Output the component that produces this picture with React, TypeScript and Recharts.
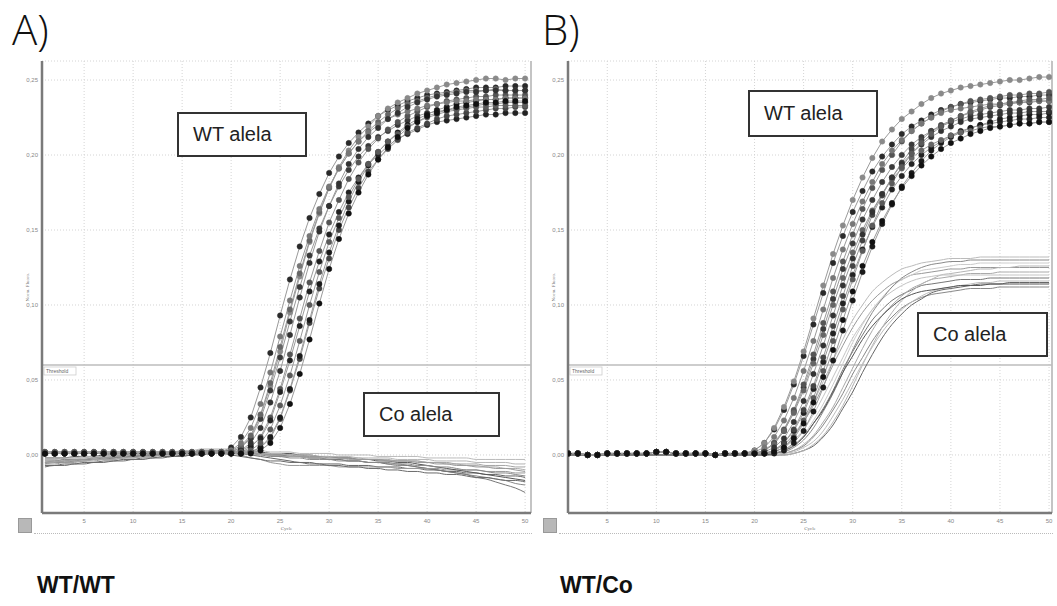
import React from 'react';
import { LineChart, Line, XAxis, YAxis, CartesianGrid, ReferenceLine } from 'recharts';

// cycle numbers of the run
const CYCLES = [1,2,3,4,5,6,7,8,9,10,11,12,13,14,15,16,17,18,19,20,21,22,23,24,25,26,27,28,29,30,31,32,33,34,35,36,37,38,39,40,41,42,43,44,45,46,47,48,49,50];

const X_TICKS = [5, 10, 15, 20, 25, 30, 35, 40, 45, 50];
const Y_TICKS = [0, 0.05, 0.1, 0.15, 0.2, 0.25];
const THRESHOLD = 0.06;

// A) WT/WT — WT allele curves (norm. fluoro. x1000, cycles 1..50)
const A_WT = [
  [1,1,1,1,1,1,1,1,1,1,1,1,1,1,1,1,1,1, 2,5,12,25,45,68,93,117,139,158,174,188,199,208,215,221,226,230,233,236,238,240,241,242,243,244,245,245,245,246,246,246],
  [1,1,1,1,1,1,1,1,1,1,1,1,1,1,1,1,1,1,1, 2,5,12,26,46,69,95,119,142,161,178,192,203,212,219,226,231,235,238,241,243,245,247,248,249,250,251,251,250,251,251],
  [1,1,1,1,1,1,1,1,1,1,1,1,1,1,1,1,1,1,1, 2,5,11,24,43,65,89,112,133,151,166,179,190,199,206,212,216,220,223,226,228,229,230,231,232,233,234,234,235,235,235],
  [1,1,1,1,1,1,1,1,1,1,1,1,1,1,1,1,1,1,1,1, 2,5,12,25,44,67,91,115,136,155,170,184,195,204,211,217,222,226,229,232,234,236,237,238,239,239,240,240,240,240],
  [2,2,2,2,2,2,2,2,2,2,2,2,2,2,2,2,2,2,2,2, 3,6,11,23,42,63,86,109,129,147,162,175,185,194,200,206,211,214,217,220,222,223,224,225,226,227,227,228,228,228],
  [1,1,1,1,1,1,1,1,1,1,1,1,1,1,1,1,1,1,1,1,1, 2,5,11,24,43,64,88,111,131,150,165,178,189,197,204,210,215,218,221,224,226,227,228,229,230,231,231,232,232],
  [1,1,1,1,1,1,1,1,1,1,1,1,1,1,1,1,1,1,1,1,1, 2,5,12,25,44,66,90,114,135,153,169,182,193,202,209,215,220,224,227,230,232,234,235,236,237,237,238,238,238],
  [2,2,2,2,2,2,2,2,2,2,2,2,2,2,2,2,2,2,2, 3,6,13,27,48,72,97,121,143,162,178,191,201,209,216,222,227,231,234,236,238,240,241,242,243,243,243,244,243,243,243],
  [1,1,1,1,1,1,1,1,1,1,1,1,1,1,1,1,1,1, 1,3,8,18,34,55,79,103,126,146,164,179,191,201,209,215,220,224,227,229,231,233,234,235,236,236,237,237,237,238,238,238],
  [1,1,1,1,1,1,1,1,1,1,1,1,1,1,1,1,1,1,1, 1,3,8,18,35,56,80,105,128,149,166,181,194,204,212,218,224,228,232,235,237,239,240,241,242,242,243,243,243,243,243],
  [2,2,2,2,2,2,2,2,2,2,2,2,2,2,2,2,2,2,2,2, 2,3,8,17,33,53,76,100,122,142,158,172,184,194,202,209,214,219,222,225,227,229,230,231,232,232,233,233,233,233],
  [1,1,1,1,1,1,1,1,1,1,1,1,1,1,1,1,1,1,1,1,1, 1,3,8,18,34,54,77,101,124,144,161,175,187,197,205,212,218,222,226,228,230,232,233,234,235,235,236,236,236],
];

// A) WT/WT — Co allele curves (no amplification)
const A_CO = [
  [-6,-5,-5,-4,-4,-3,-3,-2,-2,-1,-1,0,0,1,1,2,2,3, 3,2,2,1,1,0,0,-1,-1,-2,-2,-3,-3,-4,-4,-5,-5,-6,-7,-7,-8,-9,-10,-11,-12,-13,-14,-15,-16,-17,-19,-20],
  [-3,-3,-2,-2,-2,-1,-1,-1,0,0,0,1,1,1,2,2,3, 3,3,2,2,1,1,1,0,0,0,-1,-1,-1,-2,-2,-2,-3,-3,-3,-4,-4,-4,-5,-5,-6,-6,-7,-7,-8,-8,-9,-9,-10],
  [-7,-7,-6,-6,-5,-5,-4,-4,-3,-3,-2,-2,-1,-1,0,0,1,1,2, 2,1,0,-1,-2,-3,-4,-5,-5,-6,-6,-6,-7,-7,-7,-8,-8,-8,-9,-9,-10,-10,-11,-11,-12,-12,-13,-13,-14,-14,-15],
  [-4,-4,-3,-3,-2,-2,-1,-1,0,0,1,1,2,2,3,3,4,4, 4,4,3,3,3,2,2,2,1,1,1,1,0,0,0,0,-1,-1,-1,-1,-1,-2,-2,-2,-2,-2,-3,-3,-3,-3,-3,-3],
  [-5,-5,-4,-4,-3,-3,-2,-2,-1,-1,0,0,1,1,2,2,3,3, 3,2,2,1,1,0,0,-1,-1,-2,-2,-3,-3,-4,-4,-5,-5,-6,-6,-7,-8,-9,-10,-11,-12,-13,-15,-16,-18,-20,-22,-25],
  [-6,-6,-5,-5,-4,-4,-3,-3,-2,-2,-1,-1,0,0,1,1,2,2, 2,1,0,-2,-3,-5,-6,-7,-7,-7,-7,-7,-8,-8,-8,-8,-8,-8,-9,-9,-9,-9,-9,-10,-10,-10,-10,-11,-11,-11,-12,-12],
  [-2,-2,-2,-1,-1,-1,0,0,0,1,1,1,1,2,2,2,3,3, 3,3,2,2,2,1,1,1,0,0,-1,-1,-2,-2,-3,-3,-4,-4,-5,-5,-6,-7,-8,-9,-10,-11,-12,-13,-14,-15,-16,-17],
  [-5,-5,-4,-4,-4,-3,-3,-3,-2,-2,-1,-1,0,0,1,1,2,2, 2,2,1,1,0,0,-1,-1,-1,-2,-2,-2,-2,-3,-3,-3,-3,-4,-4,-4,-4,-5,-5,-5,-6,-6,-6,-7,-7,-7,-8,-8],
  [-4,-4,-3,-3,-3,-2,-2,-2,-1,-1,0,0,0,1,1,1,2,2, 2,1,1,0,0,-1,-1,-2,-2,-3,-3,-3,-4,-4,-4,-5,-5,-5,-6,-6,-7,-7,-8,-8,-9,-10,-10,-11,-12,-12,-13,-14],
  [-3,-3,-2,-2,-1,-1,-1,0,0,0,1,1,1,2,2,2,3,3, 3,2,2,2,1,1,1,0,0,0,-1,-1,-1,-1,-2,-2,-2,-2,-3,-3,-3,-3,-4,-4,-4,-4,-5,-5,-5,-5,-6,-6],
  [-8,-7,-7,-6,-6,-5,-5,-4,-4,-3,-3,-2,-2,-1,-1,0,0,1, 1,0,-1,-2,-3,-4,-4,-5,-5,-6,-6,-7,-7,-8,-8,-9,-9,-10,-10,-11,-11,-12,-12,-13,-13,-14,-15,-15,-16,-17,-17,-18],
  [-5,-4,-4,-3,-3,-2,-2,-1,-1,0,0,1,1,2,2,2,3,3, 3,2,2,1,1,0,0,0,-1,-1,-1,-2,-2,-2,-3,-3,-3,-4,-4,-4,-5,-5,-6,-6,-7,-7,-8,-8,-9,-9,-10,-11],
];

// B) WT/Co — WT allele curves
const B_WT = [
  [1,1,0,0,1,1,1,1,1,2,2,1,1,1,1,0,1,1, 1,3,8,17,30,47,66,87,108,128,146,162,176,189,199,207,214,219,223,227,230,232,234,235,236,237,238,238,239,239,240,240],
  [1,1,0,0,1,1,1,1,1,2,2,1,1,1,1,0,1,1, 1,3,8,18,32,49,69,91,113,134,153,170,185,198,209,217,224,229,234,238,241,243,245,246,247,248,249,250,250,251,252,252],
  [1,1,0,0,1,1,1,1,1,2,2,1,1,1,1,0,1,1,1, 1,3,8,16,29,45,64,84,104,124,141,157,170,182,192,200,207,212,216,219,222,224,226,227,228,229,230,230,231,231,232],
  [1,1,0,0,1,1,1,1,1,2,2,1,1,1,1,0,1,1,1, 1,3,8,17,30,47,67,88,109,129,147,164,178,190,200,209,216,221,225,229,232,234,236,237,238,239,240,240,241,241,242],
  [1,1,0,0,1,1,1,1,1,2,2,1,1,1,1,0,1,1,1,1, 1,3,8,16,28,44,62,81,101,120,137,152,165,177,186,194,200,205,209,213,216,218,220,221,222,223,224,224,225,225],
  [1,1,0,0,1,1,1,1,1,2,2,1,1,1,1,0,1,1,1,1, 1,3,8,17,30,46,65,86,106,126,143,160,173,185,195,204,210,216,220,223,226,228,230,232,233,234,235,235,236,236],
  [1,1,0,0,1,1,1,1,1,2,2,1,1,1,1,0,1,1,1,1,1, 1,3,8,16,29,45,63,83,103,122,139,154,167,179,188,196,203,208,212,215,218,220,222,224,225,226,227,227,228],
  [1,1,0,0,1,1,1,1,1,2,2,1,1,1,1,0,1,1,1, 1,3,7,16,28,43,61,80,100,118,135,150,163,174,184,191,198,203,207,210,213,215,216,218,219,219,220,221,221,222,222],
  [1,1,0,0,1,1,1,1,1,2,2,1,1,1,1,0,1,1, 1,2,5,12,23,38,56,76,97,118,137,154,169,182,194,203,210,216,221,225,228,230,231,232,233,234,234,235,235,236,236,236],
  [1,1,0,0,1,1,1,1,1,2,2,1,1,1,1,0,1,1,1, 1,2,5,11,22,36,54,73,93,113,131,147,162,174,185,194,201,207,212,216,219,222,224,225,226,227,228,228,229,229,229],
  [1,1,0,0,1,1,1,1,1,2,2,1,1,1,1,0,1,1,1,1, 1,2,5,12,23,38,56,76,97,117,136,153,168,181,192,201,208,214,219,223,226,229,231,233,234,235,236,237,237,238],
  [1,1,0,0,1,1,1,1,1,2,2,1,1,1,1,0,1,1,1,1, 1,2,5,11,21,35,52,70,90,109,126,142,156,168,178,186,193,199,204,208,211,214,216,218,219,220,221,221,222,222],
];

// B) WT/Co — Co allele curves (later, lower plateau)
const B_CO = [
  [0,0,0,0,0,0,0,0,0,0,0,0,0,0,0,0,0,0,0,0, 1,3,7,13,22,33,46,60,73,85,95,103,109,114,117,120,121,122,123,124,124,125,125,125,125,125,125,125,125,125],
  [0,0,0,0,0,0,0,0,0,0,0,0,0,0,0,0,0,0,0,0, 1,3,7,14,23,35,49,63,77,90,100,109,115,120,124,126,128,129,130,131,131,131,132,132,132,132,132,132,132,132],
  [0,0,0,0,0,0,0,0,0,0,0,0,0,0,0,0,0,0,0,0,0, 1,3,7,12,21,31,43,57,69,80,90,97,103,107,110,113,114,115,116,117,117,117,118,118,118,118,118,118,118],
  [0,0,0,0,0,0,0,0,0,0,0,0,0,0,0,0,0,0,0,0,0, 1,3,7,13,23,34,47,61,75,87,97,105,112,117,120,123,124,125,126,127,127,128,128,128,128,128,128,128,128],
  [0,0,0,0,0,0,0,0,0,0,0,0,0,0,0,0,0,0,0,0,0,0, 1,3,6,12,20,30,41,54,65,76,85,92,98,102,105,107,108,109,110,111,111,111,112,112,112,112,112,112],
  [0,0,0,0,0,0,0,0,0,0,0,0,0,0,0,0,0,0,0,0,0,0, 1,3,7,13,22,32,45,58,71,83,93,100,106,111,114,117,118,119,120,121,121,121,122,122,122,122,122,122],
  [0,0,0,0,0,0,0,0,0,0,0,0,0,0,0,0,0,0,0,0,0,0,0, 1,3,6,12,20,31,42,55,67,78,87,94,100,104,108,110,111,112,113,114,114,114,115,115,115,115,115],
  [0,0,0,0,0,0,0,0,0,0,0,0,0,0,0,0,0,0,0,0,0,0,0, 1,3,7,13,22,33,46,60,73,85,95,103,109,114,117,120,121,122,123,124,124,125,125,126,126,126,126],
  [0,0,0,0,0,0,0,0,0,0,0,0,0,0,0,0,0,0,0,0, 1,2,5,10,17,27,39,52,65,78,88,97,104,109,113,116,118,119,120,120,120,120,120,120,120,120,120,120,120,120],
  [0,0,0,0,0,0,0,0,0,0,0,0,0,0,0,0,0,0,0,0,0, 1,2,5,10,18,29,41,55,70,83,95,104,112,118,122,125,127,128,129,129,130,130,130,130,130,130,130,130,130],
  [0,0,0,0,0,0,0,0,0,0,0,0,0,0,0,0,0,0,0,0,0,0, 1,2,5,9,16,26,37,49,61,72,82,90,97,102,106,109,111,112,113,114,115,115,116,116,116,116,116,116],
  [0,0,0,0,0,0,0,0,0,0,0,0,0,0,0,0,0,0,0,0,0, 1,3,6,12,21,30,42,55,66,77,86,93,99,104,107,109,110,111,112,113,113,113,114,114,114,114,114,114,114],
];

const WT_DOTS = ['#2a2a2a', '#8a8a8a', '#3a3a3a', '#555', '#222', '#444', '#1a1a1a', '#666', '#777', '#333', '#5a5a5a', '#111'];
const A_CO_LINES = ['#888', '#aaa', '#666', '#bbb', '#777', '#999', '#555', '#a5a5a5', '#888', '#b5b5b5', '#6a6a6a', '#999'];
const B_CO_LINES = ['#999', '#bbb', '#777', '#ccc', '#888', '#aaa', '#666', '#b5b5b5', '#c4c4c4', '#8a8a8a', '#bdbdbd', '#555'];

function buildRows(wt: number[][], co: number[][]) {
  return CYCLES.map((c, i) => {
    const r: Record<string, number> = { cycle: c };
    wt.forEach((s, k) => { r['w' + k] = s[i] / 1000; });
    co.forEach((s, k) => { r['c' + k] = s[i] / 1000; });
    return r;
  });
}

const ThresholdLabel = (props: any) => {
  const vb = props.viewBox || {};
  const x = (vb.x ?? 0) + 2;
  const y = (vb.y ?? 0) + 2;
  return (
    <g>
      <rect x={x} y={y} width={32} height={8} fill="#fff" stroke="#ccc" strokeWidth={0.8} />
      <text x={x + 2} y={y + 6} fontSize={5} fill="#666" fontFamily="Arial, sans-serif">Threshold</text>
    </g>
  );
};

const fmt = (v: number) => v.toFixed(2).replace('.', ',');

function Panel({ wt, co, coColors, width, margin, xDomain }: { wt: number[][]; co: number[][]; coColors: string[]; width: number; margin: any; xDomain: [number, number] }) {
  const rows = buildRows(wt, co);
  const tick = { fontSize: 6, fill: '#888', fontFamily: 'Arial, sans-serif' };
  return (
    <LineChart width={width} height={540} data={rows} margin={margin}>
      <CartesianGrid stroke="#d4d4d4" strokeDasharray="1 2" />
      <XAxis type="number" dataKey="cycle" domain={xDomain} ticks={X_TICKS} allowDataOverflow
        height={20} tick={tick} tickLine={false} tickSize={4}
        axisLine={{ stroke: '#7a7a7a', strokeWidth: 2.5 }}
        label={{ value: 'Cycle', position: 'insideBottom', offset: 3, fontSize: 5, fill: '#777' }} />
      <YAxis type="number" domain={[-0.0387, 0.2627]} ticks={Y_TICKS} allowDataOverflow
        width={30} tick={tick} tickLine={false} tickSize={2} tickFormatter={fmt}
        axisLine={{ stroke: '#7a7a7a', strokeWidth: 2.5 }}
        label={{ value: 'Norm. Fluoro.', angle: -90, position: 'center', fontSize: 5, fill: '#777' }} />
      <ReferenceLine x={xDomain[1]} stroke="#c4c4c4" strokeWidth={2} />
      <ReferenceLine y={THRESHOLD} stroke="#bdbdbd" strokeWidth={1.5} label={<ThresholdLabel />} />
      {co.map((_, k) => (
        <Line key={'c' + k} type="monotone" dataKey={'c' + k} stroke={coColors[k % coColors.length]}
          strokeWidth={1} dot={false} isAnimationActive={false} />
      ))}
      {wt.map((_, k) => (
        <Line key={'w' + k} type="linear" dataKey={'w' + k} stroke="#9a9a9a" strokeWidth={1}
          dot={{ r: 2.7, fill: WT_DOTS[k % WT_DOTS.length], stroke: WT_DOTS[k % WT_DOTS.length], strokeWidth: 0.5 }}
          isAnimationActive={false} />
      ))}
    </LineChart>
  );
}

const boxStyle = (left: number, top: number, w: number, h: number): React.CSSProperties => ({
  position: 'absolute', left, top, width: w, height: h, boxSizing: 'border-box',
  border: '2px solid #333', background: '#fff', display: 'flex', alignItems: 'center',
  paddingLeft: 14, fontSize: 20, fontFamily: '"Liberation Sans", Arial, sans-serif', color: '#222',
});

const Icon = ({ left }: { left: number }) => (
  <div style={{ position: 'absolute', left, top: 518, width: 14, height: 15, background: '#b8b8b8', border: '1px solid #999', boxSizing: 'border-box' }} />
);

const panelTitle: React.CSSProperties = {
  position: 'absolute', top: 2, width: 60, height: 56, zIndex: 5, whiteSpace: 'nowrap',
  fontSize: 42, lineHeight: '54px', fontFamily: '"Open Sans", sans-serif', fontWeight: 300, color: '#111',
};

export default function App() {
  return (
    <div style={{ position: 'absolute', left: 0, top: 0, width: 1057, height: 606, background: '#fff', overflow: 'hidden' }}>
      <div style={{ position: 'absolute', left: 0, top: 0 }}>
        <Panel wt={A_WT} co={A_CO} coColors={A_CO_LINES} width={540} margin={{ top: 61, right: 9, bottom: 7, left: 12 }} xDomain={[0.7, 50.6]} />
      </div>
      <div style={{ position: 'absolute', left: 530, top: 0 }}>
        <Panel wt={B_WT} co={B_CO} coColors={B_CO_LINES} width={527} margin={{ top: 61, right: 5, bottom: 7, left: 8 }} xDomain={[1.0, 50.3]} />
      </div>

      <div style={{ ...panelTitle, left: 12 }}>A)</div>
      <div style={{ ...panelTitle, left: 542 }}>B)</div>

      <div style={boxStyle(177, 112, 130, 45)}>WT alela</div>
      <div style={boxStyle(363, 392, 137, 45)}>Co alela</div>
      <div style={boxStyle(748, 90, 130, 47)}>WT alela</div>
      <div style={boxStyle(917, 312, 131, 45)}>Co alela</div>

      <Icon left={18} />
      <Icon left={543} />
      <div style={{ position: 'absolute', left: 34, top: 533, width: 498, borderTop: '1px dotted #bbb' }} />
      <div style={{ position: 'absolute', left: 559, top: 533, width: 494, borderTop: '1px dotted #bbb' }} />

      <div style={{ position: 'absolute', left: 37, top: 572, fontSize: 23, lineHeight: 1.2, fontWeight: 'bold', fontFamily: '"Liberation Sans", Arial, sans-serif', color: '#111' }}>WT/WT</div>
      <div style={{ position: 'absolute', left: 560, top: 572, fontSize: 23, lineHeight: 1.2, fontWeight: 'bold', fontFamily: '"Liberation Sans", Arial, sans-serif', color: '#111' }}>WT/Co</div>
    </div>
  );
}
